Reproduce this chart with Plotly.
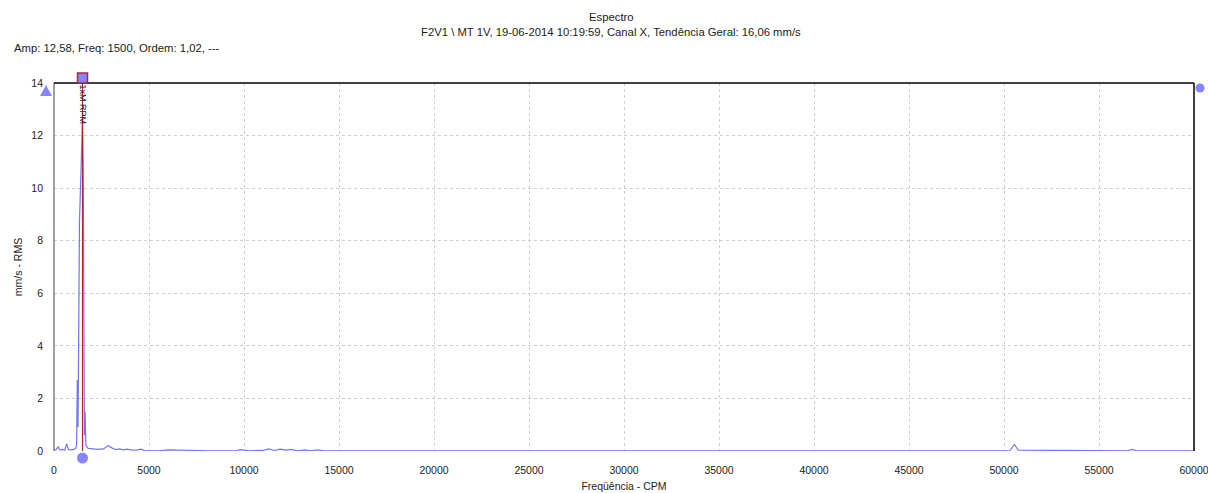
import plotly.graph_objects as go

# Vibration spectrum, channel X (frequency in CPM, amplitude in mm/s RMS)
freq_cpm = [0, 100, 220, 300, 450, 560, 670, 760, 900, 1050, 1150, 1190, 1226, 1265,
            1340, 1420, 1500, 1540, 1570, 1600, 1635, 1680, 1800, 2000, 2300, 2600,
            2850, 3050, 3250, 3450, 3650, 3850, 4100, 4400, 4600, 4800, 5500, 6000,
            6600, 7200, 7600, 8200, 9600, 9800, 10000, 10300, 11000, 11300, 11600,
            11900, 12200, 12500, 12800, 13200, 13500, 13900, 14200, 20000, 30000,
            40000, 50300, 50550, 50750, 56500, 56750, 57000, 60000]
amp_mms = [0.02, 0.05, 0.16, 0.04, 0.06, 0.03, 0.27, 0.05, 0.04, 0.06, 0.12, 0.25, 2.7, 0.9,
           8.7, 11.2, 12.58, 10.6, 6.5, 0.6, 1.5, 0.2, 0.1, 0.08, 0.06, 0.08,
           0.2, 0.12, 0.05, 0.08, 0.04, 0.07, 0.03, 0.04, 0.07, 0.01, 0.01, 0.04,
           0.03, 0.04, 0.02, 0.01, 0.01, 0.05, 0.03, 0.01, 0.02, 0.08, 0.02,
           0.07, 0.03, 0.06, 0.01, 0.04, 0.01, 0.04, 0.01, 0.01, 0.01,
           0.01, 0.01, 0.25, 0.03, 0.01, 0.06, 0.01, 0.01]

# Cursor placed on the 1x running-speed peak
cursor_freq = 1500
cursor_amp = 12.58
cursor_label = "1xM RPM"

x_ticks = [0, 5000, 10000, 15000, 20000, 25000, 30000, 35000, 40000, 45000, 50000, 55000, 60000]
y_ticks = [0, 2, 4, 6, 8, 10, 12, 14]

title_line1 = "Espectro"
title_line2 = "F2V1 \\ MT 1V, 19-06-2014 10:19:59, Canal X, Tendência Geral: 16,06 mm/s"
cursor_info = "Amp: 12,58, Freq: 1500, Ordem: 1,02, ---"

FONT = "Liberation Sans, Arial, sans-serif"
TRACE = "#7474f4"
MARK = "#8585ff"
CURSOR_RED = "#a8283c"
TXT = "#222222"

W, H = 1208, 493
ML, MR, MT, MB = 54, 14, 83, 42
PW, PH = W - ML - MR, H - MT - MB
X_MAX, Y_MAX = 60000, 14


def px_to_paper(px, py):
    """Pixel position on the page -> paper coordinates of the plot area."""
    return (px - ML) / PW, (H - MB - py) / PH


def data_to_paper(x, y):
    return x / X_MAX, y / Y_MAX


fig = go.Figure()

fig.add_trace(go.Scatter(
    x=freq_cpm, y=amp_mms, mode="lines",
    line=dict(color=TRACE, width=1.2), hoverinfo="x+y", showlegend=False,
))

# Cursor line from baseline up to the top of the frame
fig.add_trace(go.Scatter(
    x=[cursor_freq, cursor_freq], y=[0, Y_MAX], mode="lines",
    line=dict(color=CURSOR_RED, width=1.2), showlegend=False, hoverinfo="skip",
))

grid = dict(showgrid=True, gridcolor="#cfcfcf", griddash="3px,3px", gridwidth=1,
            zeroline=False, automargin=False)

fig.update_xaxes(
    range=[0, X_MAX], tickvals=x_ticks, ticktext=[str(v) for v in x_ticks],
    tickfont=dict(family=FONT, size=10.5, color=TXT), ticks="", ticklabelstandoff=11,
    ticklabeloverflow="allow",
    title=dict(text="Freqüência - CPM", font=dict(family=FONT, size=10.5, color=TXT), standoff=8),
    **grid,
)
fig.update_yaxes(
    range=[0, Y_MAX], tickvals=y_ticks, ticktext=[str(v) for v in y_ticks],
    tickfont=dict(family=FONT, size=10.5, color=TXT), ticks="", ticklabelstandoff=10,
    title=dict(text="mm/s - RMS", font=dict(family=FONT, size=10.5, color=TXT), standoff=6),
    **grid,
)

# Frame: grey left edge, black top and right edges
fig.add_shape(type="line", xref="paper", yref="paper", x0=0, x1=0, y0=0, y1=1,
              line=dict(color="#808080", width=1.5))
fig.add_shape(type="line", xref="paper", yref="paper", x0=0, x1=1, y0=1, y1=1,
              line=dict(color="#000000", width=1.5))
fig.add_shape(type="line", xref="paper", yref="paper", x0=1, x1=1, y0=0, y1=1,
              line=dict(color="#000000", width=1.5))

# Cursor handles (drawn in paper space so they can sit outside the frame)
cx, _ = data_to_paper(cursor_freq, 0)
hx, hy = 5 / PW, 5 / PH
top = 1 + 5 / PH
fig.add_shape(type="rect", xref="paper", yref="paper",
              x0=cx - hx, x1=cx + hx, y0=top - hy, y1=top + hy,
              fillcolor=MARK, line=dict(color=CURSOR_RED, width=1.5), layer="above")
bot = -7 / PH
rx, ry = 5.5 / PW, 5.5 / PH
fig.add_shape(type="circle", xref="paper", yref="paper",
              x0=cx - rx, x1=cx + rx, y0=bot - ry, y1=bot + ry,
              fillcolor=MARK, line=dict(width=0), layer="above")

# Scale handles: triangle at the top left, dot at the top right
tx, ty = px_to_paper(46, 91)
fig.add_shape(type="path", xref="paper", yref="paper",
              path=f"M {tx - 6 / PW} {ty - 5 / PH} L {tx + 6 / PW} {ty - 5 / PH} L {tx} {ty + 6 / PH} Z",
              fillcolor=MARK, line=dict(width=0), layer="above")
dx, dy = px_to_paper(1200, 88)
r2x, r2y = 4.5 / PW, 4.5 / PH
fig.add_shape(type="circle", xref="paper", yref="paper",
              x0=dx - r2x, x1=dx + r2x, y0=dy - r2y, y1=dy + r2y,
              fillcolor=MARK, line=dict(width=0), layer="above")

fig.add_annotation(x=cursor_freq, y=13.2, xref="x", yref="y", text=cursor_label,
                   textangle=90, showarrow=False, xanchor="center", yanchor="middle",
                   font=dict(family=FONT, size=9, color=TXT))

for text, (px, py), anchor in [
    (title_line1, (611, 17), "center"),
    (title_line2, (611, 32), "center"),
    (cursor_info, (12, 48), "left"),
]:
    ax, ay = px_to_paper(px, py)
    fig.add_annotation(x=ax, y=ay, xref="paper", yref="paper", text=text,
                       showarrow=False, xanchor=anchor, yanchor="middle",
                       font=dict(family=FONT, size=11.3, color=TXT))

fig.update_layout(
    width=W, height=H,
    margin=dict(l=ML, r=MR, t=MT, b=MB, autoexpand=False),
    paper_bgcolor="white", plot_bgcolor="white",
    font=dict(family=FONT),
)

fig.write_html("out.html")
